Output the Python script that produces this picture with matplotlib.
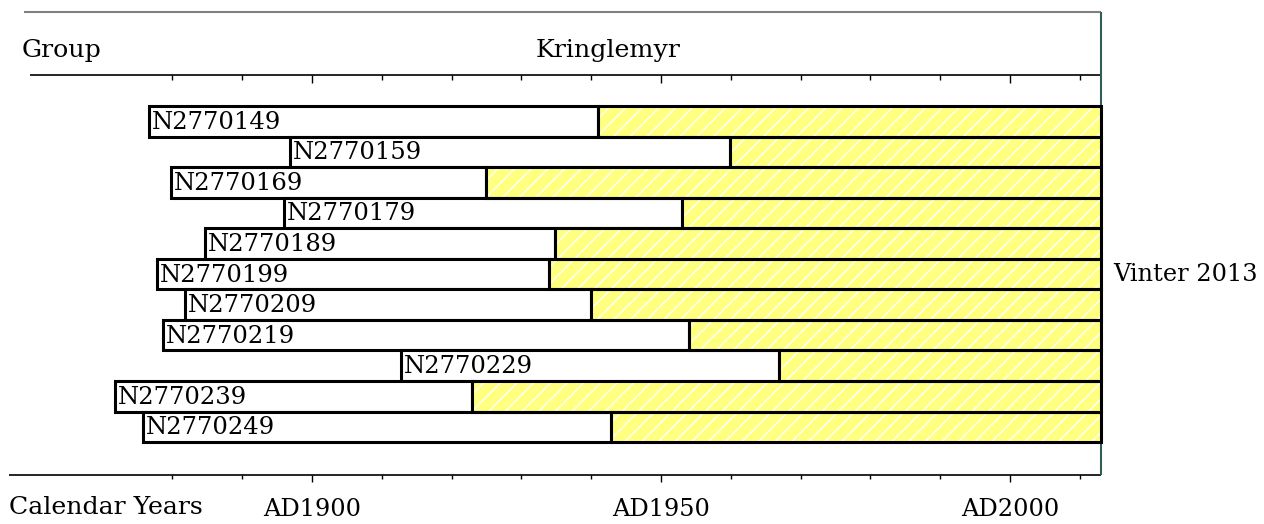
import matplotlib

matplotlib.use("Agg")
import matplotlib.pyplot as plt

# calendar-year spans
samples = ["N2770149", "N2770159", "N2770169", "N2770179", "N2770189", "N2770199",
           "N2770209", "N2770219", "N2770229", "N2770239", "N2770249"]
start_year = [1876.6, 1896.8, 1879.8, 1896.0, 1884.7, 1877.8, 1881.8, 1878.7, 1912.8, 1871.8, 1875.8]
split_year = [1941.0, 1959.9, 1924.9, 1953.0, 1934.8, 1934.0, 1940.0, 1954.0, 1966.9, 1922.9, 1942.8]
end_year = 2013.0
group_name = "Kringlemyr"
side_label = "Vinter 2013"
tick_years = list(range(1880, 2011, 10))
major_years = [1900, 1950, 2000]
major_labels = ["AD1900", "AD1950", "AD2000"]

W, H = 1264, 524
PX_PER_YR = 6.98
X0 = 1900 - 312 / PX_PER_YR  # year at left figure edge


def yr(px):
    return X0 + px / PX_PER_YR


FONT = "DejaVu Serif"
plt.rcParams["font.family"] = FONT
plt.rcParams["hatch.linewidth"] = 1.0

fig = plt.figure(figsize=(W / 100, H / 100), dpi=100)
ax = fig.add_axes([0, 0, 1, 1])
ax.set_xlim(yr(0), yr(W))
ax.set_ylim(H, 0)
ax.axis("off")

# frame lines
ax.hlines(12, yr(24), end_year, color="#808080", lw=1.5)
ax.hlines(75, yr(30), end_year, color="black", lw=1.2)
ax.hlines(475, yr(9), end_year, color="black", lw=1.2)
ax.vlines(end_year, 12, 475, color="#2f5f55", lw=1.5)

for t in tick_years:
    long = t in major_years
    ax.vlines(t, 75, 83 if long else 80, color="black", lw=1.0)
    ax.vlines(t, 475, 482 if long else 479, color="black", lw=1.0)

row_top, row_h = 106, 30.55
for i, name in enumerate(samples):
    yc = row_top + row_h * (i + 0.5)
    ax.barh(yc, split_year[i] - start_year[i], left=start_year[i], height=row_h,
            color="white", edgecolor="black", lw=2.2, zorder=2)
    ax.barh(yc, end_year - split_year[i], left=split_year[i], height=row_h,
            color="#ffff80", edgecolor="white", hatch="//", lw=0, zorder=2)
    ax.barh(yc, end_year - split_year[i], left=split_year[i], height=row_h,
            fill=False, edgecolor="black", lw=2.2, zorder=3)
    ax.text(start_year[i] + 3 / PX_PER_YR, yc + 1, name, fontsize=17.5,
            va="center", ha="left", zorder=4)

fs = 18.2
ax.text(yr(22), 51, "Group", fontsize=fs, va="center", ha="left")
ax.text((min(start_year) + end_year) / 2, 51, group_name, fontsize=fs, va="center", ha="center")
ax.text(yr(1113), row_top + row_h * 5.5, side_label, fontsize=17.3, va="center", ha="left")
ax.text(yr(9), 508, "Calendar Years", fontsize=fs, va="center", ha="left")
for t, lab in zip(major_years, major_labels):
    ax.text(t, 510, lab, fontsize=17.3, va="center", ha="center")

fig.savefig("out.png", dpi=100)
